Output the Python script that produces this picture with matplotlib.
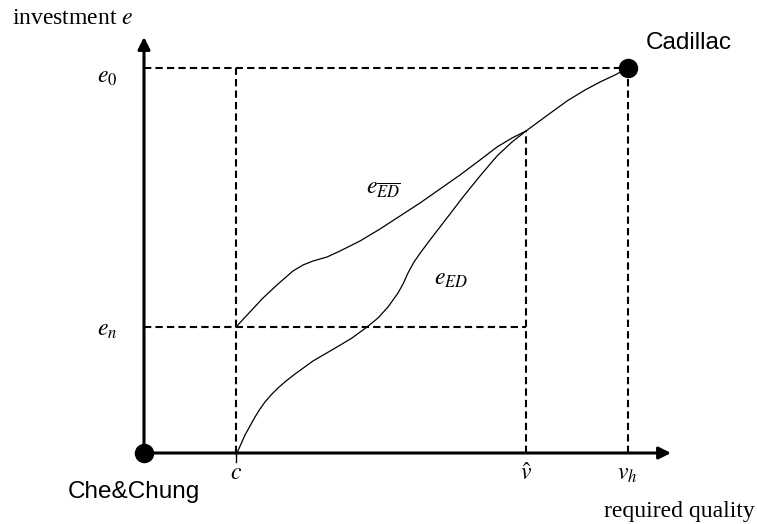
import matplotlib
matplotlib.use("Agg")
import matplotlib.pyplot as plt

plt.rcParams['mathtext.fontset'] = 'stix'

# Key positions (quality, investment) measured from the origin
c_q = 92
v_hat_q = 382
v_h_q = 484
e0_val = 385
en_val = 126
kink = (382, 322)

# Upper curve e_{ED-bar} (quality, investment)
upper_q = [92, 105, 119, 134, 149, 159, 169, 183, 196, 216, 236, 256, 276, 296, 316, 336, 353, 368, 382]
upper_e = [126, 140, 155, 169, 182, 188, 192, 196, 202, 212, 224, 237, 250, 264, 278, 293, 306, 315, 322]

# Lower curve e_ED
lower_q = [93, 97, 101, 106, 111, 116, 121, 127, 134, 142, 151, 169, 193, 208, 223, 234, 244, 249, 254, 259, 264, 270, 277, 286, 296, 306, 319, 336, 353, 368, 382]
lower_e = [0, 9, 18, 27, 36, 44, 51, 58, 65, 72, 79, 92, 106, 115, 126, 135, 146, 153, 160, 169, 180, 191, 201, 213, 226, 239, 256, 277, 297, 311, 322]

# Common segment up to Cadillac
common_q = [382, 401, 423, 441, 456, 471, 484]
common_e = [322, 336, 352, 363, 371, 378, 385]

fig = plt.figure(figsize=(7.57, 5.24), dpi=100)
ax = fig.add_axes([0, 0, 1, 1])
ax.set_xlim(-144, 613)
ax.set_ylim(-71, 453)
ax.axis('off')

# Axes with arrows
ax.annotate('', xy=(527, 0), xytext=(0, 0),
            arrowprops=dict(arrowstyle='-|>', lw=2.2, color='black', mutation_scale=18, shrinkA=0, shrinkB=0))
ax.annotate('', xy=(0, 416), xytext=(0, 0),
            arrowprops=dict(arrowstyle='-|>', lw=2.2, color='black', mutation_scale=18, shrinkA=0, shrinkB=0))

dash = dict(color='black', lw=1.5, linestyle=(0, (3.5, 2)))
ax.plot([0, v_h_q], [e0_val, e0_val], **dash)
ax.plot([0, v_hat_q], [en_val, en_val], **dash)
ax.plot([c_q, c_q], [0, e0_val], **dash)
ax.plot([v_hat_q, v_hat_q], [0, kink[1]], **dash)
ax.plot([v_h_q, v_h_q], [0, e0_val], **dash)

# tick at c
ax.plot([c_q, c_q], [0, -9], color='black', lw=1.0)

# curves
ax.plot(upper_q, upper_e, color='black', lw=0.9)
ax.plot(lower_q, lower_e, color='black', lw=0.9)
ax.plot(common_q, common_e, color='black', lw=0.9)

# dots
ax.plot([0], [0], 'o', color='black', markersize=13, zorder=5)
ax.plot([v_h_q], [e0_val], 'o', color='black', markersize=13, zorder=5)

serif = 'Liberation Serif'
sans = 'Liberation Sans'
ax.text(-132, 435, 'investment $e$', fontsize=17, family=serif, ha='left', va='center')
ax.text(-37, 377, r'$e_0$', fontsize=17, ha='center', va='center')
ax.text(-37, 124, r'$e_n$', fontsize=17, ha='center', va='center')
ax.text(c_q, -19, r'$c$', fontsize=17, ha='center', va='center')
ax.text(v_hat_q, -20, r'$\hat{v}$', fontsize=17, ha='center', va='center')
ax.text(v_h_q - 1, -20, r'$v_h$', fontsize=17, ha='center', va='center')
ax.text(239, 265, r'$e_{\overline{E}\overline{D}}$', fontsize=17, ha='center', va='center')
ax.text(307, 175, r'$e_{ED}$', fontsize=17, ha='center', va='center')
ax.text(502, 410, 'Cadillac', fontsize=17.5, family=sans, ha='left', va='center')
ax.text(-76, -39, 'Che&Chung', fontsize=17.5, family=sans, ha='left', va='center')
ax.text(611, -59, 'required quality', fontsize=17, family=serif, ha='right', va='center')

fig.savefig('out.png', dpi=100)
